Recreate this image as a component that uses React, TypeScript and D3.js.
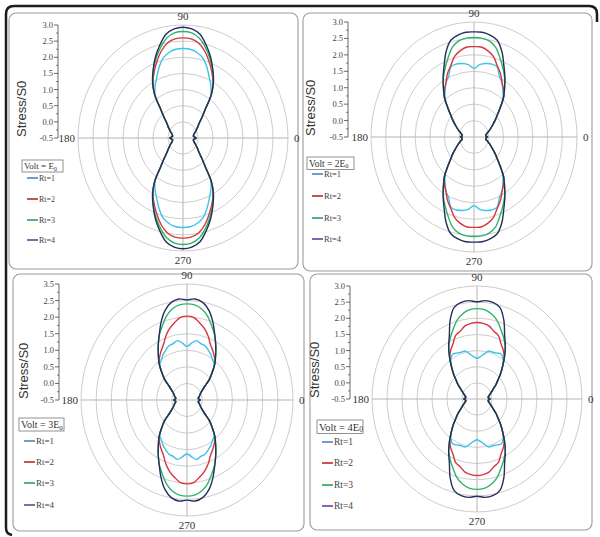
import * as d3 from 'd3';
import React from 'react';

// angles (deg) of one quadrant; the curves are symmetric about both axes
const angles = [0, 5, 10, 15, 20, 25, 30, 35, 40, 45, 50, 55, 60, 65, 70, 75, 80, 85, 90];
const seriesNames = ['Rt=1', 'Rt=2', 'Rt=3', 'Rt=4'];
const voltCoef = ['', '2', '3', '4'];
const ringValues = [0, 0.5, 1, 1.5, 2, 2.5, 3];
const tickValues = [-0.5, 0, 0.5, 1, 1.5, 2, 2.5, 3];
const tickLabels = ['-0.5', '0.0', '0.5', '1.0', '1.5', '2.0', '2.5', '3.0'];
const tickLabels3 = ['-0.5', '0.0', '0.5', '1.0', '1.5', '2.0', '2.5', '3.5'];

// Volt = E0
const e1Rt1 = [-0.06, -0.12, -0.15, -0.13, -0.1, -0.04, 0.02, 0.1, 0.2, 0.38, 0.65, 1.12, 1.36, 1.57, 1.83, 2.06, 2.19, 2.26, 2.27];
const e1Rt2 = [-0.06, -0.12, -0.15, -0.13, -0.1, -0.04, 0.02, 0.1, 0.2, 0.38, 0.65, 1.15, 1.5, 1.77, 2.03, 2.29, 2.49, 2.58, 2.6];
const e1Rt3 = [-0.06, -0.12, -0.15, -0.13, -0.1, -0.04, 0.02, 0.1, 0.2, 0.38, 0.65, 1.15, 1.53, 1.83, 2.12, 2.4, 2.64, 2.77, 2.8];
const e1Rt4 = [-0.06, -0.12, -0.15, -0.13, -0.1, -0.04, 0.02, 0.1, 0.2, 0.38, 0.65, 1.15, 1.53, 1.85, 2.18, 2.48, 2.76, 2.89, 2.93];

// Volt = 2E0
const e2Rt1 = [-0.04, -0.1, -0.09, -0.03, 0.04, 0.13, 0.23, 0.37, 0.53, 0.76, 1.03, 1.21, 1.4, 1.54, 1.78, 1.8, 1.77, 1.71, 1.59];
const e2Rt2 = [-0.04, -0.1, -0.09, -0.03, 0.04, 0.13, 0.23, 0.37, 0.53, 0.76, 1.06, 1.25, 1.41, 1.63, 1.81, 2.04, 2.17, 2.25, 2.25];
const e2Rt3 = [-0.04, -0.1, -0.09, -0.03, 0.04, 0.13, 0.23, 0.37, 0.53, 0.76, 1.06, 1.31, 1.58, 1.82, 2.07, 2.33, 2.47, 2.52, 2.53];
const e2Rt4 = [-0.04, -0.1, -0.09, -0.03, 0.04, 0.13, 0.23, 0.37, 0.53, 0.76, 1.06, 1.31, 1.6, 1.9, 2.27, 2.55, 2.65, 2.7, 2.7];

// Volt = 3E0
const e3Rt1 = [-0.06, -0.12, -0.12, -0.08, -0.05, 0.0, 0.08, 0.21, 0.46, 0.68, 0.9, 0.97, 1.08, 1.16, 1.24, 1.26, 1.32, 1.22, 1.12];
const e3Rt2 = [-0.06, -0.12, -0.12, -0.08, -0.05, 0.0, 0.08, 0.21, 0.46, 0.68, 0.93, 1.08, 1.21, 1.34, 1.55, 1.73, 1.87, 2.0, 2.03];
const e3Rt3 = [-0.06, -0.12, -0.12, -0.08, -0.05, 0.0, 0.08, 0.21, 0.46, 0.68, 0.93, 1.15, 1.4, 1.66, 1.88, 2.12, 2.29, 2.38, 2.4];
const e3Rt4 = [-0.06, -0.12, -0.12, -0.08, -0.05, 0.0, 0.08, 0.21, 0.46, 0.68, 0.93, 1.15, 1.4, 1.67, 2.0, 2.3, 2.49, 2.56, 2.52];

// Volt = 4E0
const e4Rt1 = [-0.06, -0.12, -0.12, -0.08, -0.03, 0.04, 0.13, 0.27, 0.41, 0.61, 0.83, 1.02, 1.11, 1.07, 1.04, 1.04, 0.92, 0.82, 0.76];
const e4Rt2 = [-0.06, -0.12, -0.12, -0.08, -0.03, 0.04, 0.13, 0.27, 0.41, 0.61, 0.83, 1.08, 1.25, 1.39, 1.59, 1.67, 1.8, 1.85, 1.87];
const e4Rt3 = [-0.06, -0.12, -0.12, -0.08, -0.03, 0.04, 0.13, 0.27, 0.41, 0.61, 0.83, 1.1, 1.38, 1.6, 1.81, 2.04, 2.19, 2.28, 2.3];
const e4Rt4 = [-0.06, -0.12, -0.12, -0.08, -0.03, 0.04, 0.13, 0.27, 0.41, 0.61, 0.83, 1.1, 1.39, 1.68, 2.11, 2.44, 2.54, 2.56, 2.51];

const panelSeries = [
  [e1Rt1, e1Rt2, e1Rt3, e1Rt4],
  [e2Rt1, e2Rt2, e2Rt3, e2Rt4],
  [e3Rt1, e3Rt2, e3Rt3, e3Rt4],
  [e4Rt1, e4Rt2, e4Rt3, e4Rt4],
];
const panelTicks = [tickLabels, tickLabels, tickLabels3, tickLabels];

const curveColors = ['#3cc3e8', '#d8343c', '#2db368', '#252f5c'];
const legendColors = ['#4f81bd', '#c0262b', '#27a35a', '#6b3fa0'];

// layout of each panel
const layout = [
  { bx: 9, by: 13, bw: 289, bh: 256, cx: 183, cy: 138, rx: 105, ry: 113, ax: 58, lx: 21, gx: 22, gy: 160, gw: 41, items: [178, 199, 220, 240], fs: 8 },
  { bx: 303, by: 13, bw: 289, bh: 258, cx: 474, cy: 137, rx: 103, ry: 115, ax: 348, lx: 310, gx: 307, gy: 157, gw: 47, items: [174, 196, 218, 239], fs: 8.5 },
  { bx: 13, by: 274, bw: 291, bh: 257, cx: 187, cy: 400, rx: 106, ry: 116, ax: 59, lx: 23, gx: 19, gy: 418, gw: 45, items: [441, 462, 483, 505], fs: 9 },
  { bx: 310, by: 274, bw: 282, bh: 256, cx: 477, cy: 399, rx: 105, ry: 113, ax: 350, lx: 314, gx: 317, gy: 420, gw: 46, items: [442, 463, 485, 506], fs: 9.5 },
];

const serif = '"Liberation Serif", "DejaVu Serif", serif';
const sans = '"Liberation Sans", Arial, sans-serif';

const Panel = ({ idx }: { idx: number }) => {
  const p = layout[idx];
  const r = d3.scaleLinear().domain([-0.5, 3]).range([0, 1]);
  const px = (deg: number, v: number) => p.cx + p.rx * r(v) * Math.cos((deg * Math.PI) / 180);
  const py = (deg: number, v: number) => p.cy - p.ry * r(v) * Math.sin((deg * Math.PI) / 180);
  const line = d3.line<[number, number]>().curve(d3.curveCatmullRomClosed.alpha(0.5));

  const full = (vals: number[]) => {
    const pts: [number, number][] = [];
    angles.forEach((a, i) => pts.push([a, vals[i]]));
    for (let i = angles.length - 2; i >= 0; i--) pts.push([180 - angles[i], vals[i]]);
    for (let i = 1; i < angles.length; i++) pts.push([180 + angles[i], vals[i]]);
    for (let i = angles.length - 2; i >= 1; i--) pts.push([360 - angles[i], vals[i]]);
    return line(pts.map(([a, v]) => [px(a, v), py(a, v)]));
  };

  const ty = (v: number) => p.cy - p.ry * r(v);
  const minor = d3.range(-0.25, 3, 0.5);

  return (
    <g>
      <rect x={p.bx} y={p.by} width={p.bw} height={p.bh} rx={7} fill="#fff" stroke="#9c9c9c" strokeWidth={1.1} />
      {ringValues.map((v) => (
        <ellipse key={v} cx={p.cx} cy={p.cy} rx={p.rx * r(v)} ry={p.ry * r(v)} fill="none" stroke="#cdcdcd" strokeWidth={1} />
      ))}
      <line x1={p.cx - p.rx} x2={p.cx + p.rx} y1={p.cy} y2={p.cy} stroke="#b5b5b5" />
      <line x1={p.cx} x2={p.cx} y1={p.cy - p.ry} y2={p.cy + p.ry} stroke="#b5b5b5" />
      <text x={p.cx} y={p.cy - p.ry - 5} textAnchor="middle" fontFamily={serif} fontSize={11} fill="#333">90</text>
      <text x={p.cx} y={p.cy + p.ry + 13} textAnchor="middle" fontFamily={serif} fontSize={11} fill="#333">270</text>
      <text x={p.cx - p.rx - 3} y={p.cy + 4} textAnchor="end" fontFamily={serif} fontSize={11} fill="#333">180</text>
      <text x={p.cx + p.rx + 6} y={p.cy + 4} textAnchor="start" fontFamily={serif} fontSize={11} fill="#333">0</text>

      {/* radial axis */}
      <line x1={p.ax} x2={p.ax} y1={ty(-0.5)} y2={ty(3)} stroke="#444" strokeWidth={0.8} />
      {tickValues.map((v, i) => (
        <g key={v}>
          <line x1={p.ax - 4} x2={p.ax} y1={ty(v)} y2={ty(v)} stroke="#444" strokeWidth={0.8} />
          <text x={p.ax - 5} y={ty(v) + 3} textAnchor="end" fontFamily={serif} fontSize={8.5} fill="#444">
            {panelTicks[idx][i]}
          </text>
        </g>
      ))}
      {minor.map((v) => (
        <line key={v} x1={p.ax - 2} x2={p.ax} y1={ty(v)} y2={ty(v)} stroke="#444" strokeWidth={0.7} />
      ))}
      <text transform={`translate(${p.lx + 5},${p.cy - 1}) rotate(-90)`} fontFamily={sans} fontSize={13} fill="#333">
        Stress/S0
      </text>

      {/* curves */}
      {panelSeries[idx].map((vals, i) => (
        <path key={i} d={full(vals) || ''} fill="none" stroke={curveColors[i]} strokeWidth={1.4} />
      ))}

      {/* legend */}
      <rect x={p.gx} y={p.gy} width={p.gw} height={p.fs + 4} fill="#fff" stroke="#777" strokeWidth={0.8} />
      <text x={p.gx + 2} y={p.gy + p.fs + 1} fontFamily={serif} fontSize={p.fs + 1} fill="#333">
        {`Volt = ${voltCoef[idx]}E`}
        <tspan fontSize={p.fs - 2} dy={1.5}>0</tspan>
      </text>
      {seriesNames.map((s, i) => (
        <g key={s}>
          <line x1={p.gx + 5} x2={p.gx + 16} y1={p.items[i]} y2={p.items[i]} stroke={legendColors[i]} strokeWidth={1.6} />
          <text x={p.gx + 17} y={p.items[i] + 3} fontFamily={serif} fontSize={p.fs} fill="#444">{s}</text>
        </g>
      ))}
    </g>
  );
};

export default function App() {
  return (
    <svg width={600} height={537} style={{ position: 'absolute', left: 0, top: 0, background: '#fff' }}>
      <rect x={0} y={0} width={600} height={537} fill="#fff" />
      {layout.map((_, i) => (
        <Panel key={i} idx={i} />
      ))}
      <path d="M597 22 L597 14 Q597 6 589 6 L14 6 Q6 6 6 14 L6 528 Q6 534 12 535" fill="none" stroke="#1c1c1c" strokeWidth={2.5} />
    </svg>
  );
}
